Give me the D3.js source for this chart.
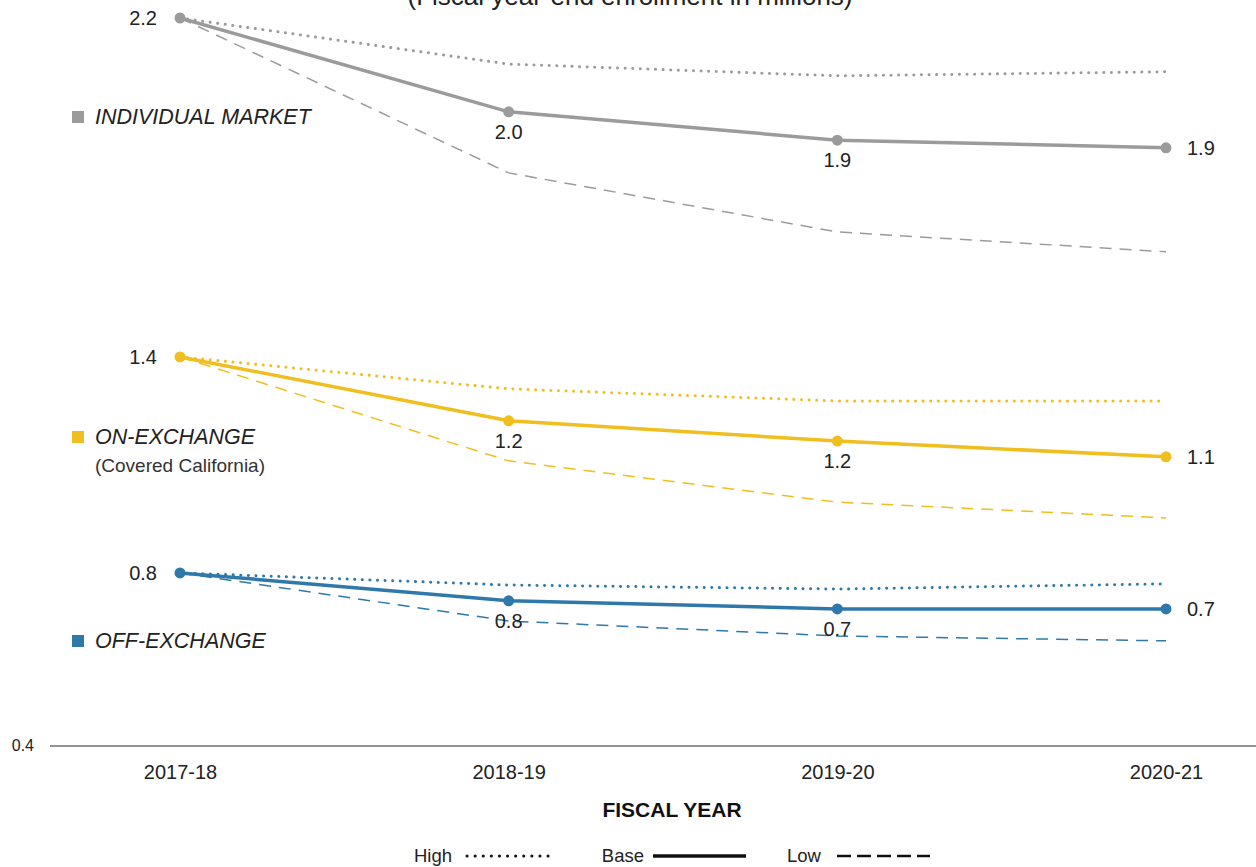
<!DOCTYPE html>
<html>
<head>
<meta charset="utf-8">
<script src="https://cdn.jsdelivr.net/npm/d3@7"></script>
<style>
  body { margin: 0; background: #fff; }
  svg { display: block; font-family: "Liberation Sans", Arial, sans-serif; }
</style>
</head>
<body>
<script>
// Fiscal years on the x axis
let years = ["2017-18", "2018-19", "2019-20", "2020-21"];

// Enrollment in millions
let individualHigh = [2.2, 2.086, 2.057, 2.067];
let individualBase = [2.2, 1.968, 1.898, 1.879];
let individualLow  = [2.2, 1.817, 1.671, 1.622];

let onHigh = [1.362, 1.283, 1.253, 1.253];
let onBase = [1.362, 1.204, 1.154, 1.115];
let onLow  = [1.362, 1.105, 1.003, 0.964];

let offHigh = [0.828, 0.798, 0.788, 0.801];
let offBase = [0.828, 0.759, 0.739, 0.739];
let offLow  = [0.828, 0.709, 0.672, 0.660];

let groups = [
    { name: "INDIVIDUAL MARKET", sub: null, color: "#9b9b9b", high: individualHigh, base: individualBase, low: individualLow, labelY: 124 },
    { name: "ON-EXCHANGE", sub: "(Covered California)", color: "#f0be1e", high: onHigh, base: onBase, low: onLow, labelY: 444 },
    { name: "OFF-EXCHANGE", sub: null, color: "#2f78aa", high: offHigh, base: offBase, low: offLow, labelY: 648 }
];

let width = 1256, height = 867;

let x = d3.scalePoint(years, [180, 1166]);
let y = d3.scaleLinear([0.4, 2.2], [746, 18]);
let fmt = d3.format(".1f");

let svg = d3.select("body")
    .append("svg")
    .attr("width", width)
    .attr("height", height);

// Title, cut off at the top edge like the source
svg.append("text")
    .attr("x", 630)
    .attr("y", 5)
    .attr("text-anchor", "middle")
    .style("font-size", "26px")
    .style("fill", "#222")
    .text("(Fiscal year-end enrollment in millions)");

// Baseline axis
svg.append("line")
    .attr("x1", 50).attr("x2", width)
    .attr("y1", y(0.4)).attr("y2", y(0.4))
    .attr("stroke", "#6f6f6f")
    .attr("stroke-width", 1.3);

svg.append("text")
    .attr("x", 34)
    .attr("y", y(0.4) + 5)
    .attr("text-anchor", "end")
    .style("font-size", "16px")
    .style("fill", "#222")
    .text(fmt(0.4));

// Year tick labels
let xAxis = svg.append("g")
    .attr("transform", `translate(0, ${y(0.4)})`)
    .call(d3.axisBottom(x).tickSize(0).tickPadding(19));
xAxis.select(".domain").remove();
xAxis.selectAll("text")
    .style("font-size", "20px")
    .style("font-family", "Liberation Sans, Arial, sans-serif")
    .style("fill", "#222");

svg.append("text")
    .attr("x", 672)
    .attr("y", 817)
    .attr("text-anchor", "middle")
    .style("font-size", "21px")
    .style("font-weight", "bold")
    .style("fill", "#111")
    .text("FISCAL YEAR");

let line = d3.line()
    .x((d, i) => x(years[i]))
    .y(d => y(d));

groups.forEach(g => {
    let grp = svg.append("g");

    grp.append("path")
        .attr("d", line(g.high))
        .attr("fill", "none")
        .attr("stroke", g.color)
        .attr("stroke-width", 3)
        .attr("stroke-linecap", "round")
        .attr("stroke-dasharray", "0.1 7.5");

    grp.append("path")
        .attr("d", line(g.low))
        .attr("fill", "none")
        .attr("stroke", g.color)
        .attr("stroke-width", 1.5)
        .attr("stroke-dasharray", "12 8");

    grp.append("path")
        .attr("d", line(g.base))
        .attr("fill", "none")
        .attr("stroke", g.color)
        .attr("stroke-width", 3.5);

    grp.selectAll("circle")
        .data(g.base)
        .enter()
        .append("circle")
        .attr("cx", (d, i) => x(years[i]))
        .attr("cy", d => y(d))
        .attr("r", 5.5)
        .attr("fill", g.color);

    // Value labels: left of the first point, below the middle ones, right of the last
    grp.selectAll(".val")
        .data(g.base)
        .enter()
        .append("text")
        .attr("class", "val")
        .attr("x", (d, i) => i === 0 ? x(years[i]) - 23 : i === years.length - 1 ? x(years[i]) + 21 : x(years[i]))
        .attr("y", (d, i) => i === 0 || i === years.length - 1 ? y(d) + 7 : y(d) + 27)
        .attr("text-anchor", (d, i) => i === 0 ? "end" : i === years.length - 1 ? "start" : "middle")
        .style("font-size", "20px")
        .style("fill", "#222")
        .text(d => fmt(d));

    // Series name with a coloured square
    grp.append("rect")
        .attr("x", 72)
        .attr("y", g.labelY - 13)
        .attr("width", 12)
        .attr("height", 12)
        .attr("fill", g.color);

    grp.append("text")
        .attr("x", 95)
        .attr("y", g.labelY)
        .style("font-size", "21.5px")
        .style("font-style", "italic")
        .style("fill", "#222")
        .text(g.name);

    if (g.sub) {
        grp.append("text")
            .attr("x", 95)
            .attr("y", g.labelY + 28)
            .style("font-size", "19px")
            .style("fill", "#333")
            .text(g.sub);
    }
});

// Line style legend
let legendItems = [
    { name: "High", tx: 452, x1: 467, x2: 556, dash: "0.1 8", w: 3, cap: "round" },
    { name: "Base", tx: 644, x1: 653, x2: 746, dash: null, w: 3.5, cap: "butt" },
    { name: "Low", tx: 821, x1: 837, x2: 930, dash: "14 6", w: 2.5, cap: "butt" }
];

let legend = svg.append("g")
    .selectAll("g")
    .data(legendItems)
    .enter()
    .append("g");

legend.append("text")
    .attr("x", d => d.tx)
    .attr("y", 862)
    .attr("text-anchor", "end")
    .style("font-size", "18.5px")
    .style("fill", "#222")
    .text(d => d.name);

legend.append("line")
    .attr("x1", d => d.x1).attr("x2", d => d.x2)
    .attr("y1", 856).attr("y2", 856)
    .attr("stroke", "#111")
    .attr("stroke-width", d => d.w)
    .attr("stroke-linecap", d => d.cap)
    .attr("stroke-dasharray", d => d.dash);
</script>
</body>
</html>
